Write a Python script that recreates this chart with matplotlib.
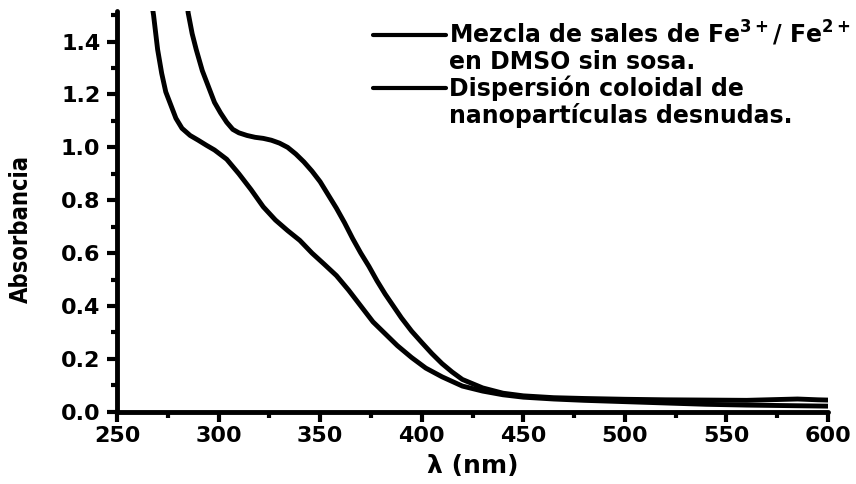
import matplotlib
matplotlib.use("Agg")
import matplotlib.pyplot as plt
from matplotlib.lines import Line2D
from matplotlib.ticker import MultipleLocator, FormatStrFormatter

# ---- data ----
wl_mezcla = [284, 285, 287, 289, 292, 295, 298, 301, 304, 307, 310, 314, 318, 322, 326,
             330, 334, 338, 342, 346, 350, 354, 358, 362, 366, 370, 374, 378, 382, 386,
             390, 395, 400, 405, 410, 415, 420, 430, 440, 450, 465, 480, 500, 520, 540,
             560, 575, 585, 595, 600]
abs_mezcla = [1.60, 1.51, 1.43, 1.37, 1.29, 1.23, 1.17, 1.13, 1.095, 1.068, 1.055, 1.045, 1.038,
              1.034, 1.027, 1.016, 1.0, 0.975, 0.945, 0.91, 0.87, 0.82, 0.77, 0.715, 0.655,
              0.60, 0.55, 0.495, 0.445, 0.40, 0.355, 0.305, 0.262, 0.22, 0.182, 0.15, 0.122,
              0.09, 0.07, 0.06, 0.053, 0.05, 0.047, 0.045, 0.044, 0.043, 0.046, 0.048, 0.045,
              0.044]

wl_disp = [266, 268, 270, 272, 274, 276, 279, 282, 286, 290, 294, 298, 304, 310, 316, 322,
           328, 334, 340, 346, 352, 358, 364, 370, 376, 382, 388, 395, 402, 410, 420, 430,
           440, 450, 465, 480, 500, 520, 540, 560, 580, 600]
abs_disp = [1.60, 1.50, 1.37, 1.28, 1.21, 1.17, 1.11, 1.072, 1.045, 1.027, 1.008, 0.99, 0.955,
            0.90, 0.84, 0.775, 0.725, 0.685, 0.648, 0.60, 0.558, 0.515, 0.46, 0.40, 0.34, 0.295,
            0.25, 0.205, 0.165, 0.132, 0.097, 0.078, 0.064, 0.055, 0.048, 0.043, 0.038, 0.033,
            0.028, 0.025, 0.023, 0.021]

label_lines_mezcla = ["Mezcla de sales de Fe$^{3+}$/ Fe$^{2+}$", "en DMSO sin sosa."]
label_lines_disp = ["Dispersión coloidal de", "nanopartículas desnudas."]
xlabel = "λ (nm)"
ylabel = "Absorbancia"

plt.rcParams['font.family'] = ['DejaVu Sans']
plt.rcParams['font.weight'] = 'bold'
plt.rcParams['mathtext.fontset'] = 'dejavusans'
plt.rcParams['mathtext.default'] = 'bf'

fig = plt.figure(figsize=(8.56, 4.84), dpi=100)
ax = fig.add_axes([117/856, 1 - 411.7/484, (828-117)/856, (411.7-10.7)/484])

lw = 3.5
l1, = ax.plot(wl_mezcla, abs_mezcla, color='black', lw=lw, solid_capstyle='round',
              solid_joinstyle='round')
l2, = ax.plot(wl_disp, abs_disp, color='black', lw=lw, solid_capstyle='round',
              solid_joinstyle='round')

ax.set_xlim(250, 600)
ax.set_ylim(0, 1.517)

for s in ['top', 'right']:
    ax.spines[s].set_visible(False)
for s in ['left', 'bottom']:
    ax.spines[s].set_linewidth(3.5)
    ax.spines[s].set_capstyle('round')

ax.xaxis.set_major_locator(MultipleLocator(50))
ax.xaxis.set_minor_locator(MultipleLocator(25))
ax.yaxis.set_major_locator(MultipleLocator(0.2))
ax.yaxis.set_minor_locator(MultipleLocator(0.1))
ax.yaxis.set_major_formatter(FormatStrFormatter('%.1f'))
ax.tick_params(which='major', direction='out', length=7, width=3, labelsize=16, pad=3)
ax.tick_params(axis='y', which='major', pad=5)
ax.tick_params(which='minor', direction='out', length=4.5, width=3)
for t in ax.get_xticklabels() + ax.get_yticklabels():
    t.set_fontweight('bold')

ax.set_xlabel(xlabel, fontsize=18, fontweight='bold', labelpad=6)
ax.set_ylabel(ylabel, fontsize=17, fontweight='bold', fontstretch='condensed', va='center')
ax.yaxis.set_label_coords(-0.135, 0.455)

blank = Line2D([], [], alpha=0)
handles = [l1, blank, l2, blank]
labels = [label_lines_mezcla[0], label_lines_mezcla[1], label_lines_disp[0], label_lines_disp[1]]
leg = ax.legend(handles, labels, loc='upper left', bbox_to_anchor=(373/856, 1 - 19/484),
                bbox_transform=fig.transFigure, frameon=False,
                handlelength=3.1, handletextpad=0.13, borderpad=0, borderaxespad=0,
                labelspacing=0.07, prop={'weight': 'bold', 'size': 17})
for h in leg.legend_handles:
    h.set_linewidth(3)

fig.savefig('out.png', dpi=100)
